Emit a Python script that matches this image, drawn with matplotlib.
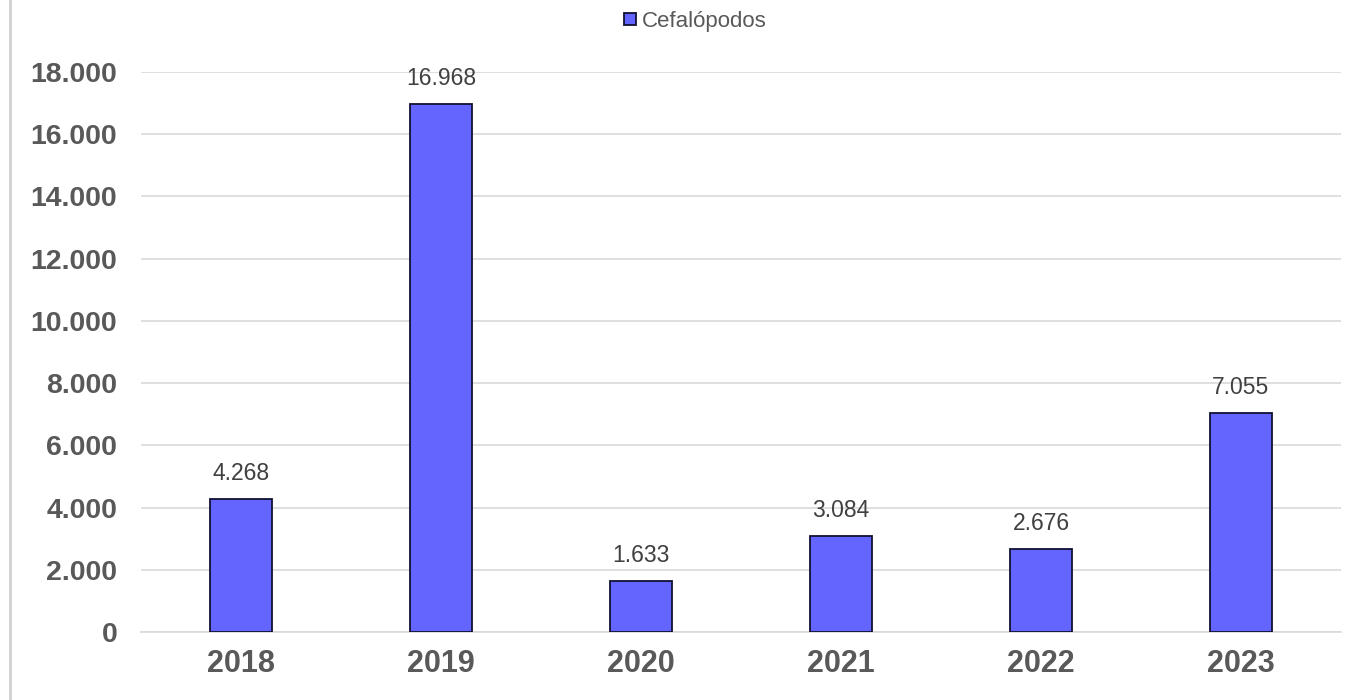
import matplotlib
matplotlib.use("Agg")
import matplotlib.pyplot as plt
from matplotlib.lines import Line2D

years = ["2018", "2019", "2020", "2021", "2022", "2023"]
values = [4268, 16968, 1633, 3084, 2676, 7055]
yticks = [0, 2000, 4000, 6000, 8000, 10000, 12000, 14000, 16000, 18000]
series_name = "Cefalópodos"

def fmt(v):
    return f"{v:,}".replace(",", ".")

plt.rcParams['font.family'] = ['Liberation Sans', 'DejaVu Sans']

fig = plt.figure(figsize=(13.5, 7), dpi=100)
fig.patch.set_facecolor("white")
ax = fig.add_axes([0.1044, 0.0971, 0.8889, 0.8])

x = list(range(len(years)))
ax.bar(x, values, width=0.31, color="#6464FF", edgecolor="#111133", linewidth=1.3, zorder=3,
       label=series_name)

for xi, v in zip(x, values):
    ax.text(xi, v + 450, fmt(v), ha="center", va="bottom", fontsize=16.5, color="#404040", zorder=4)

ax.set_xlim(-0.5, 5.5)
ax.set_ylim(0, 18000)
ax.set_yticks(yticks)
ax.set_yticklabels([fmt(t) for t in yticks], fontsize=20.5, fontweight="bold", color="#595959")
ax.set_xticks(x)
ax.set_xticklabels(years, fontsize=22, fontweight="bold", color="#595959")
ax.tick_params(axis="both", length=0)
ax.tick_params(axis="y", pad=17)
ax.tick_params(axis="x", pad=12)
ax.grid(axis="y", color="#d9d9d9", linewidth=1.2, zorder=0)
for s in ["top", "right", "left"]:
    ax.spines[s].set_visible(False)
ax.spines["bottom"].set_color("#d9d9d9")
ax.spines["bottom"].set_linewidth(1.2)

handle = Line2D([], [], marker="s", linestyle="none", markersize=9,
                markerfacecolor="#6464FF", markeredgecolor="#111133", markeredgewidth=1.3)
leg = fig.legend([handle], [series_name], loc="center", bbox_to_anchor=(0.513, 0.97),
                 frameon=False, fontsize=16, handletextpad=0.05, handlelength=1.0)
for t in leg.get_texts():
    t.set_color("#595959")

# left frame line
fig.add_artist(Line2D([0.0074, 0.0074], [0, 1], color="#d0d0d0", linewidth=2, transform=fig.transFigure))

fig.savefig("out.png", dpi=100)
